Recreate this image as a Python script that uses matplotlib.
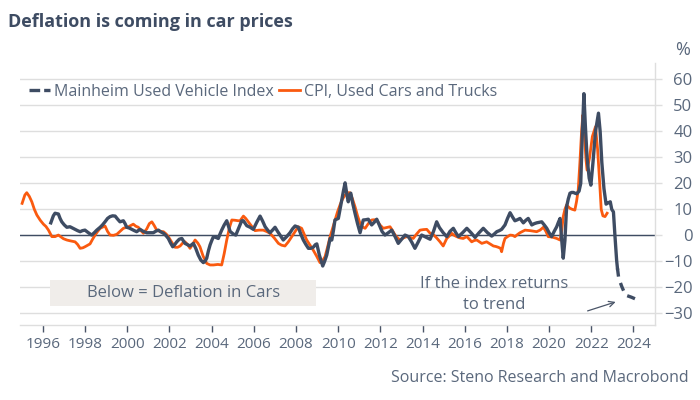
import matplotlib
matplotlib.use("Agg")
import matplotlib.pyplot as plt
from matplotlib.lines import Line2D
from matplotlib.patches import Rectangle

plt.rcParams['font.family'] = ['Open Sans', 'DejaVu Sans']

# ---------------- data ----------------
cpi_years = [1995.02, 1995.15, 1995.24, 1995.36, 1995.48, 1995.6, 1995.72, 1995.88, 1996.03, 1996.15,
             1996.27, 1996.43, 1996.58, 1996.74, 1996.98, 1997.14, 1997.29, 1997.53, 1997.65, 1997.77,
             1997.9, 1998.0, 1998.24, 1998.36, 1998.48, 1998.6, 1998.72, 1998.95, 1999.07, 1999.19,
             1999.35, 1999.51, 1999.66, 1999.82, 2000.06, 2000.29, 2000.41, 2000.53, 2000.65, 2000.77,
             2000.93, 2001.05, 2001.17, 2001.28, 2001.4, 2001.56, 2001.72, 2001.85, 2001.95, 2002.1,
             2002.27, 2002.39, 2002.51, 2002.63, 2002.74, 2002.86, 2002.98, 2003.1, 2003.22, 2003.35,
             2003.45, 2003.6, 2003.77, 2003.93, 2004.09, 2004.3, 2004.48, 2004.6, 2004.72, 2004.85,
             2004.96, 2005.11, 2005.27, 2005.35, 2005.43, 2005.51, 2005.62, 2005.74, 2005.9, 2006.06,
             2006.25, 2006.45, 2006.6, 2006.77, 2006.97, 2007.17, 2007.32, 2007.48, 2007.64, 2007.8,
             2007.96, 2008.11, 2008.27, 2008.39, 2008.51, 2008.67, 2008.82, 2008.98, 2009.14, 2009.26,
             2009.38, 2009.5, 2009.62, 2009.73, 2009.85, 2009.97, 2010.09, 2010.21, 2010.33, 2010.45,
             2010.56, 2010.68, 2010.8, 2010.92, 2011.04, 2011.16, 2011.28, 2011.43, 2011.59, 2011.71,
             2011.83, 2011.98, 2012.14, 2012.3, 2012.46, 2012.58, 2012.7, 2012.82, 2012.93, 2013.09,
             2013.25, 2013.4, 2013.56, 2013.72, 2013.88, 2014.04, 2014.2, 2014.36, 2014.51, 2014.67,
             2014.83, 2014.98, 2015.15, 2015.3, 2015.38, 2015.5, 2015.62, 2015.78, 2015.93, 2016.1,
             2016.22, 2016.33, 2016.45, 2016.57, 2016.7, 2016.81, 2016.93, 2017.04, 2017.2, 2017.36,
             2017.48, 2017.59, 2017.7, 2017.75, 2017.84, 2017.91, 2018.03, 2018.15, 2018.27, 2018.38,
             2018.5, 2018.62, 2018.74, 2018.86, 2018.98, 2019.1, 2019.25, 2019.41, 2019.57, 2019.73,
             2019.85, 2019.96, 2020.08, 2020.2, 2020.36, 2020.52, 2020.6, 2020.67, 2020.75, 2020.83,
             2020.91, 2020.99, 2021.1, 2021.22, 2021.3, 2021.38, 2021.46, 2021.54, 2021.6, 2021.68,
             2021.75, 2021.8, 2021.92, 2022.05, 2022.2, 2022.3, 2022.4, 2022.47, 2022.55, 2022.65,
             2022.75]
cpi_values = [12.3, 15.5, 16.4, 15.0, 12.9, 10.0, 7.8, 5.8, 4.3, 3.4,
              2.0, -0.5, -0.5, 0.1, -1.3, -1.8, -2.1, -2.5, -3.5, -5.0,
              -4.8, -4.4, -3.3, -1.5, 0.1, 1.5, 2.7, 3.6, 1.5, 0.1,
              0.0, 0.4, 1.5, 2.7, 3.3, 4.3, 3.5, 3.1, 1.8, 0.8,
              2.5, 4.5, 5.2, 3.8, 2.0, 1.5, 1.4, 0.5, -0.5, -2.5,
              -4.6, -4.6, -4.1, -3.0, -2.5, -3.5, -5.0, -3.5, -1.8, -3.0,
              -4.4, -8.0, -10.8, -11.4, -11.4, -11.2, -11.4, -7.0, -1.8, 3.0,
              5.9, 5.8, 5.6, 5.6, 6.5, 7.4, 6.5, 5.2, 3.5, 1.8,
              2.0, 2.0, 1.5, 0.8, -1.0, -3.1, -3.8, -4.1, -2.5, -0.5,
              1.5, 3.3, 2.7, 0.5, -1.8, -3.8, -5.7, -8.0, -10.5, -9.8,
              -8.2, -4.5, -0.5, 2.5, 5.9, 9.0, 11.7, 14.0, 15.5, 16.4,
              16.4, 14.0, 11.0, 7.5, 4.6, 3.2, 2.7, 4.5, 5.9, 6.0,
              5.9, 4.0, 2.7, 3.0, 3.3, 1.8, 0.1, -1.0, -1.8, -1.0,
              -0.5, -0.8, -1.2, 0.5, 2.0, 2.2, 2.3, 0.8, 0.3, -1.0,
              -2.5, -4.1, -1.2, 0.0, 0.8, 0.0, -0.5, -1.0, -1.2, -0.5,
              -1.5, -2.5, -2.0, -1.8, -2.5, -3.1, -2.8, -2.5, -3.3, -4.1,
              -4.3, -4.6, -5.0, -6.3, -3.0, -1.2, -0.5, 0.1, 0.0, -0.5,
              0.3, 1.0, 1.5, 2.0, 1.9, 1.8, 1.6, 1.4, 2.0, 3.1,
              1.5, -0.5, -0.6, -0.8, -1.2, -1.8, 2.0, 7.2, 10.0, 11.7,
              11.0, 10.4, 10.0, 9.7, 13.0, 17.4, 28.0, 40.0, 46.3, 38.0,
              29.0, 25.1, 30.0, 38.0, 41.8, 33.0, 20.0, 10.0, 7.5, 7.2,
              8.5]

mhm_years = [1996.38, 1996.5, 1996.58, 1996.74, 1996.82, 1996.9, 1997.02, 1997.14, 1997.29, 1997.41,
             1997.53, 1997.65, 1997.77, 1997.88, 1998.0, 1998.16, 1998.32, 1998.44, 1998.56, 1998.72,
             1998.83, 1998.95, 1999.07, 1999.19, 1999.31, 1999.43, 1999.55, 1999.66, 1999.82, 1999.9,
             1999.98, 2000.1, 2000.22, 2000.34, 2000.45, 2000.61, 2000.77, 2000.93, 2001.08, 2001.24,
             2001.36, 2001.48, 2001.6, 2001.72, 2001.83, 2001.95, 2002.06, 2002.16, 2002.26, 2002.35,
             2002.47, 2002.59, 2002.74, 2002.86, 2002.98, 2003.06, 2003.14, 2003.25, 2003.37, 2003.49,
             2003.61, 2003.69, 2003.77, 2003.85, 2003.93, 2004.01, 2004.09, 2004.2, 2004.32, 2004.4,
             2004.48, 2004.6, 2004.72, 2004.88, 2005.03, 2005.15, 2005.3, 2005.43, 2005.51, 2005.67,
             2005.83, 2005.98, 2006.14, 2006.3, 2006.42, 2006.54, 2006.66, 2006.77, 2006.89, 2007.01,
             2007.13, 2007.25, 2007.4, 2007.56, 2007.72, 2007.84, 2007.96, 2008.11, 2008.23, 2008.35,
             2008.47, 2008.59, 2008.7, 2008.82, 2008.92, 2008.99, 2009.11, 2009.2, 2009.27, 2009.36,
             2009.46, 2009.55, 2009.62, 2009.7, 2009.78, 2009.85, 2010.01, 2010.09, 2010.17, 2010.25,
             2010.33, 2010.41, 2010.48, 2010.55, 2010.6, 2010.7, 2010.8, 2010.92, 2011.04, 2011.1,
             2011.19, 2011.31, 2011.43, 2011.51, 2011.59, 2011.71, 2011.83, 2011.95, 2012.08, 2012.22,
             2012.38, 2012.54, 2012.7, 2012.85, 2013.01, 2013.17, 2013.33, 2013.48, 2013.64, 2013.8,
             2013.96, 2014.16, 2014.36, 2014.52, 2014.67, 2014.8, 2014.98, 2015.15, 2015.3, 2015.46,
             2015.58, 2015.7, 2015.9, 2016.1, 2016.3, 2016.49, 2016.68, 2016.88, 2017.08, 2017.28,
             2017.4, 2017.52, 2017.64, 2017.75, 2017.91, 2018.03, 2018.15, 2018.27, 2018.38, 2018.5,
             2018.62, 2018.78, 2018.9, 2019.01, 2019.18, 2019.3, 2019.41, 2019.53, 2019.65, 2019.77,
             2019.89, 2020.0, 2020.12, 2020.24, 2020.36, 2020.44, 2020.52, 2020.6, 2020.67, 2020.75,
             2020.83, 2020.91, 2020.99, 2021.07, 2021.15, 2021.23, 2021.31, 2021.42, 2021.5, 2021.57,
             2021.65, 2021.72, 2021.8, 2021.9, 2021.98, 2022.08, 2022.2, 2022.34, 2022.42, 2022.5,
             2022.6, 2022.7, 2022.8, 2022.9, 2022.97, 2023.05, 2023.12, 2023.2, 2023.24]
mhm_values = [4.8, 7.5, 8.5, 8.2, 6.5, 5.2, 4.0, 3.1, 3.3, 2.8,
              2.3, 1.8, 1.4, 1.8, 2.0, 1.0, 0.1, 1.0, 2.0, 3.1,
              4.0, 5.2, 6.5, 7.2, 7.5, 7.4, 6.2, 5.2, 5.6, 4.5,
              3.1, 2.8, 2.3, 1.8, 1.4, 2.3, 1.5, 1.0, 1.0, 1.0,
              1.6, 2.0, 1.3, 0.8, 0.0, -1.2, -3.0, -4.4, -3.5, -2.5,
              -1.5, -1.2, -3.1, -3.6, -4.1, -3.6, -3.1, -5.0, -7.6, -9.5,
              -10.5, -10.0, -8.8, -6.0, -3.7, -2.0, -0.5, -0.8, -1.2, 0.5,
              2.0, 4.0, 5.6, 1.5, 0.5, 0.1, 3.0, 5.6, 5.6, 3.7,
              3.1, 2.3, 5.0, 7.4, 5.5, 3.3, 2.0, 1.0, 2.0, 3.1,
              1.5, 0.0, -1.8, -0.5, 1.0, 2.5, 3.6, 3.1, 0.5, -1.8,
              -3.5, -5.0, -5.0, -4.6, -3.6, -3.3, -7.6, -10.0, -11.8, -10.0,
              -7.6, -4.0, -1.2, -1.8, 2.0, 5.9, 6.5, 10.0, 13.6, 17.0,
              20.2, 16.0, 12.9, 15.5, 16.2, 12.0, 8.5, 4.5, 1.0, 3.0,
              5.9, 6.0, 6.2, 5.0, 4.0, 5.0, 6.2, 4.0, 1.5, 0.1,
              1.0, 2.0, -0.5, -3.1, -1.5, 0.1, -0.5, -2.5, -5.0, -2.5,
              0.1, -0.7, -1.5, 1.5, 5.2, 3.0, 1.0, -0.5, 1.5, 2.7,
              1.0, -0.5, 1.0, 2.7, 1.0, -0.8, 1.0, 2.7, 1.0, -0.3,
              0.5, 1.4, 1.8, 2.3, 4.0, 6.5, 8.7, 7.0, 5.6, 6.0,
              6.5, 4.8, 5.8, 6.5, 4.0, 4.5, 4.8, 5.0, 5.2, 4.0,
              2.7, 1.0, -0.5, 1.5, 3.3, 5.0, 6.5, -2.0, -8.8, -2.0,
              11.0, 14.0, 16.2, 16.5, 16.5, 16.2, 16.0, 17.0, 20.0, 38.0,
              54.5, 42.0, 30.0, 22.0, 19.3, 28.0, 40.0, 47.0, 40.0, 28.0,
              18.0, 12.0, 12.5, 12.9, 10.0, 9.0, 0.0, -9.5, -12.7]

trend_years = [2023.24, 2023.3, 2023.45, 2023.62, 2023.9, 2024.3]
trend_values = [-12.7, -16.5, -19.8, -23.0, -23.8, -25.2]

x_ticks = list(range(1996, 2025, 2))
y_ticks = list(range(-30, 61, 10))

# ---------------- styling ----------------
NAVY = '#3e4c63'
ORANGE = '#fa5a0f'
TXT = '#5a687c'
GRID = '#dedede'

fig = plt.figure(figsize=(7, 4), dpi=100)
ax = fig.add_axes([20 / 700, 1 - 325 / 400, 635 / 700, 262 / 400])

ax.set_xlim(1994.92, 2025.02)
ax.set_ylim(-34.5, 66.3)

ax.yaxis.tick_right()
ax.set_yticks(y_ticks)
ax.set_xticks(x_ticks)
ax.set_xticklabels([str(y) for y in x_ticks])
ax.grid(axis='y', color=GRID, linewidth=1.0)
ax.set_axisbelow(True)

for s in ['top', 'left']:
    ax.spines[s].set_visible(False)
for s in ['bottom', 'right']:
    ax.spines[s].set_color(GRID)
    ax.spines[s].set_linewidth(1.0)

ax.tick_params(axis='x', colors='#4a5568', length=5, width=1, labelsize=11, labelcolor=TXT, pad=4)
ax.tick_params(axis='y', colors=GRID, length=5, width=1, labelsize=12, labelcolor=TXT, pad=22)
for lab in ax.get_yticklabels():
    lab.set_horizontalalignment('right')

ax.axhline(0, color=NAVY, linewidth=1.0, zorder=2)

ax.plot(cpi_years, cpi_values, color=ORANGE, linewidth=2.0, zorder=3, solid_joinstyle='round')
ax.plot(mhm_years, mhm_values, color=NAVY, linewidth=2.4, zorder=4, solid_joinstyle='round')
ax.plot(trend_years, trend_values, color=NAVY, linewidth=2.4, zorder=4,
        linestyle=(0, (2.5, 2.0)))

handles = [Line2D([], [], color=NAVY, linewidth=2.4, linestyle=(0, (3.2, 1.2))),
           Line2D([], [], color=ORANGE, linewidth=2.0)]
leg = ax.legend(handles, ['Mainheim Used Vehicle Index', 'CPI, Used Cars and Trucks'],
                loc='center left', bbox_to_anchor=(0.014, 0.889), ncol=2, frameon=False,
                fontsize=11.5, handlelength=1.3, handletextpad=0.25, columnspacing=0.35,
                borderpad=0, borderaxespad=0)
for t in leg.get_texts():
    t.set_color(TXT)

# annotation box
ax.add_patch(Rectangle((1996.35, -27.2), 2008.95 - 1996.35, 10.0, facecolor='#f0edea',
                       edgecolor='none', zorder=1))
ax.text((1996.35 + 2008.95) / 2, -22.2, 'Below = Deflation in Cars', ha='center', va='center',
        fontsize=12, color=TXT, zorder=5)

ax.text(2017.4, -22.8, 'If the index returns\nto trend', ha='center', va='center',
        fontsize=12, color=TXT, linespacing=1.35)
ax.annotate('', xy=(2023.28, -25.3), xytext=(2021.7, -29.4),
            arrowprops=dict(arrowstyle='->', color='#4a5568', linewidth=0.9))

fig.text(683 / 700, 1 - 50 / 400, '%', ha='center', va='center', fontsize=13, color=TXT)
fig.text(8 / 700, 1 - 22 / 400, 'Deflation is coming in car prices', ha='left', va='center',
         fontsize=13, fontweight='bold', color=NAVY)
fig.text(689 / 700, 1 - 378 / 400, 'Source: Steno Research and Macrobond', ha='right',
         va='center', fontsize=11.5, color=TXT)

fig.savefig('out.png', dpi=100)
